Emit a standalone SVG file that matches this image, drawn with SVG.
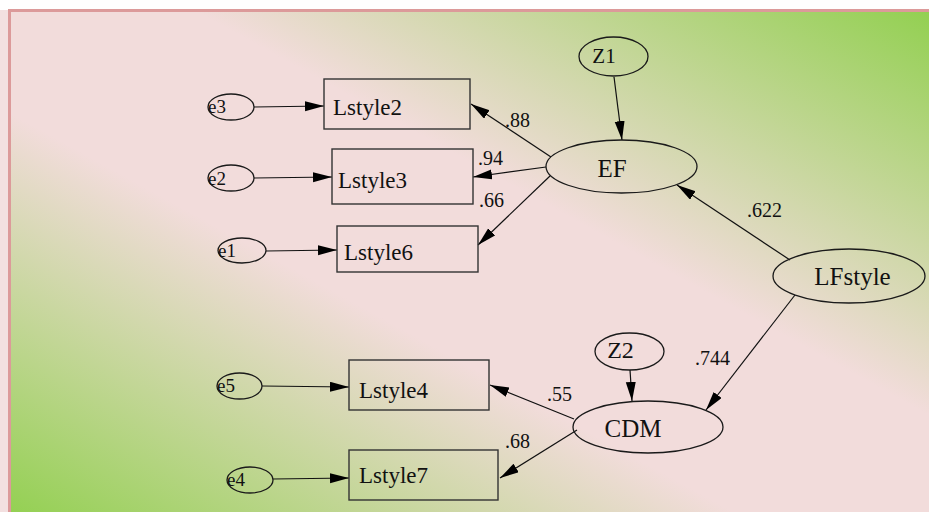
<svg xmlns="http://www.w3.org/2000/svg" width="929" height="512" viewBox="0 0 929 512">
<defs>
<linearGradient id="bg" x1="0" y1="1" x2="1" y2="0">
<stop offset="0" stop-color="#92d050"/>
<stop offset="0.4" stop-color="#f2dcdb"/>
<stop offset="0.6" stop-color="#f2dcdb"/>
<stop offset="1" stop-color="#92d050"/>
</linearGradient>
<marker id="ah" markerUnits="userSpaceOnUse" markerWidth="22" markerHeight="12" refX="19" refY="5" orient="auto">
<path d="M0,0 L19,5 L0,10 z" fill="#000"/>
</marker>
<style>
.n{fill:none;stroke:#1a1a1a;stroke-width:1.3}
.b{fill:none;stroke:#333;stroke-width:1.4}
.c{fill:none;stroke:#111;stroke-width:1.2;marker-end:url(#ah)}
text{fill:#111;font-family:'Liberation Serif','Times New Roman','DejaVu Serif',serif}
.bl{font-size:23px}
.ll{font-size:25px;text-anchor:middle}
.el{font-size:19px}
.cl{font-size:20px}
</style>
</defs>
<rect x="0" y="0" width="929" height="512" fill="#fff"/>
<rect x="0" y="10" width="9" height="502" fill="#f3e0e0"/>
<rect x="9.5" y="10.5" width="925" height="510" fill="url(#bg)" stroke="#dc9a9a" stroke-width="3"/>

<g id="connectors">
<path class="c" d="M254,107 L324,106"/>
<path class="c" d="M254,178 L332,177"/>
<path class="c" d="M266,251 L337,250"/>
<path class="c" d="M262,386 L349,387"/>
<path class="c" d="M273,479 L349,478"/>
<path class="c" d="M614,77 L622,140"/>
<path class="c" d="M630,370 L632,401"/>
<path class="c" d="M551,157 L471,104"/>
<path class="c" d="M546,167 L473,177"/>
<path class="c" d="M550,176 L478,245"/>
<path class="c" d="M790,260 L677,185"/>
<path class="c" d="M795,295 L706,410"/>
<path class="c" d="M574,419 L490,385"/>
<path class="c" d="M577,430 L500,478"/>
<text class="cl" x="505" y="127">.88</text>
<text class="cl" x="478" y="165">.94</text>
<text class="cl" x="479" y="207">.66</text>
<text class="cl" x="747" y="217">.622</text>
<text class="cl" x="695" y="365">.744</text>
<text class="cl" x="547" y="401">.55</text>
<text class="cl" x="505" y="448">.68</text>
</g>

<g id="Lstyle2"><rect class="b" x="324" y="79" width="146" height="50"/><text class="bl" x="333" y="115">Lstyle2</text></g>
<g id="Lstyle3"><rect class="b" x="332" y="149" width="141" height="55"/><text class="bl" x="338" y="188">Lstyle3</text></g>
<g id="Lstyle6"><rect class="b" x="337" y="226" width="141" height="46"/><text class="bl" x="344" y="260">Lstyle6</text></g>
<g id="Lstyle4"><rect class="b" x="349" y="360" width="140" height="50"/><text class="bl" x="359" y="398">Lstyle4</text></g>
<g id="Lstyle7"><rect class="b" x="349" y="450" width="149" height="50"/><text class="bl" x="359" y="483">Lstyle7</text></g>

<g id="e3"><ellipse class="n" cx="231" cy="107" rx="23" ry="13"/><text class="el" x="208" y="113">e3</text></g>
<g id="e2"><ellipse class="n" cx="231" cy="178" rx="23" ry="13"/><text class="el" x="208" y="185">e2</text></g>
<g id="e1"><ellipse class="n" cx="242" cy="250.5" rx="24" ry="12.5"/><text class="el" x="218" y="257">e1</text></g>
<g id="e5"><ellipse class="n" cx="239.5" cy="386" rx="22.5" ry="13"/><text class="el" x="217" y="392">e5</text></g>
<g id="e4"><ellipse class="n" cx="250" cy="480" rx="23" ry="13"/><text class="el" x="227" y="486">e4</text></g>

<g id="Z1"><ellipse class="n" cx="613.5" cy="56.5" rx="34.5" ry="19.5"/><text class="ll" x="604" y="63" style="font-size:21px">Z1</text></g>
<g id="Z2"><ellipse class="n" cx="629.5" cy="351.5" rx="34.5" ry="18.5"/><text class="ll" x="620.5" y="358" style="font-size:24px">Z2</text></g>
<g id="EF"><ellipse class="n" cx="621.5" cy="166.5" rx="75.5" ry="26.5"/><text class="ll" x="612" y="177">EF</text></g>
<g id="CDM"><ellipse class="n" cx="648" cy="427" rx="75" ry="26"/><text class="ll" x="633" y="437">CDM</text></g>
<g id="LFstyle"><ellipse class="n" cx="849" cy="276" rx="76" ry="27"/><text class="ll" x="852.5" y="285">LFstyle</text></g>
</svg>
